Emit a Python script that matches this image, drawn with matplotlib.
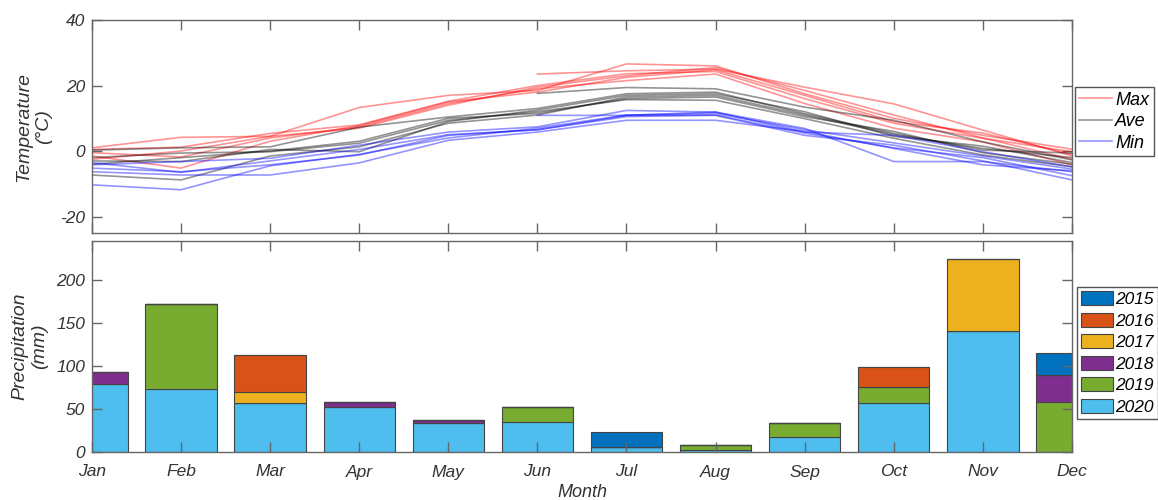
import numpy as np
import matplotlib
matplotlib.use('Agg')
import matplotlib.pyplot as plt

nan = np.nan
months = ['Jan', 'Feb', 'Mar', 'Apr', 'May', 'Jun', 'Jul', 'Aug', 'Sep', 'Oct', 'Nov', 'Dec']
years = ['2015', '2016', '2017', '2018', '2019', '2020']

# monthly temperature (degC), one row per year
t_max = [
    [nan, nan, nan, nan, nan, 23.5, 24.5, 25.0, 19.5, 14.4, 6.4, -1.5],
    [1.0, 4.2, 4.5, 13.3, 17.0, 18.5, 26.6, 26.0, 17.5, 10.0, 4.8, 0.6],
    [0.5, 1.2, 5.4, 8.0, 15.2, 20.0, 23.6, 24.3, 16.0, 8.5, 3.9, -0.2],
    [-0.5, -1.8, 4.0, 7.4, 14.5, 19.0, 21.5, 23.5, 14.5, 7.0, 2.8, -4.2],
    [-1.5, -5.2, 3.0, 7.8, 15.0, 18.0, 22.5, 24.8, 17.0, 9.0, 5.5, -1.0],
    [-2.5, 0.0, 4.5, 7.0, 14.0, 19.5, 23.0, 25.5, 18.5, 11.0, 4.0, -2.5],
]
t_ave = [
    [nan, nan, nan, nan, nan, 17.6, 19.4, 19.0, 13.4, 9.4, 2.8, -2.7],
    [0.3, 1.0, 1.3, 7.3, 10.4, 13.0, 17.5, 18.0, 11.4, 5.4, 0.3, -0.6],
    [-2.0, -0.6, -0.2, 2.4, 9.4, 12.0, 15.7, 15.5, 9.9, 3.9, -1.2, -4.8],
    [-7.3, -8.8, -1.5, 1.3, 8.5, 11.0, 16.5, 17.0, 11.0, 5.0, 0.8, -2.0],
    [-3.0, -3.2, 0.5, -0.2, 9.0, 12.5, 17.0, 17.5, 12.0, 4.5, 1.5, -3.5],
    [-4.0, -2.0, 0.0, 3.0, 10.0, 11.5, 16.0, 16.5, 10.5, 6.0, -0.5, -4.0],
]
t_min = [
    [nan, nan, nan, nan, nan, 10.9, 10.9, 11.9, 6.9, -3.2, -3.2, -6.3],
    [-4.2, -3.2, -2.2, 1.8, 5.8, 7.4, 12.4, 11.9, 5.8, 4.8, -0.2, -4.8],
    [-5.2, -6.3, -4.2, -1.2, 4.8, 6.5, 10.9, 10.9, 4.8, 1.8, -3.0, -8.8],
    [-6.3, -7.3, -7.3, -3.6, 3.3, 5.8, 9.4, 9.4, 6.0, 0.8, -4.2, -6.0],
    [-10.3, -11.8, -4.5, -1.0, 4.0, 7.0, 11.0, 11.5, 6.5, 2.5, -1.5, -5.5],
    [-3.5, -6.5, -3.0, 0.5, 5.0, 6.5, 10.5, 11.0, 5.5, 1.0, -2.0, -7.5],
]

# monthly precipitation (mm) per year, stacked from 2020 at the bottom
precip = {
    '2015': [0, 0, 0, 0, 0, 0, 17.5, 0, 0, 0, 0, 25],
    '2016': [0, 0, 42.5, 0, 0, 0, 0, 0, 0, 24, 0, 0],
    '2017': [0, 0, 13, 0, 0, 0, 0, 0, 0, 0, 83.5, 0],
    '2018': [13.5, 0, 0, 5.5, 3.5, 0, 0, 0, 0, 0, 0, 31.5],
    '2019': [0, 99, 0, 0, 0, 17, 0, 6, 16, 18, 0, 58],
    '2020': [79, 73, 57, 52.3, 34, 35.3, 5.8, 2, 17.4, 57, 141, 0],
}
bar_colors = {'2015': '#0072BD', '2016': '#D95319', '2017': '#EDB120',
              '2018': '#7E2F8E', '2019': '#77AC30', '2020': '#4DBEEE'}

plt.rcParams['font.family'] = ['Liberation Sans', 'DejaVu Sans']
plt.rcParams['font.style'] = 'italic'
plt.rcParams['axes.unicode_minus'] = False
txt = '#333333'
spine = '#666666'

fig = plt.figure(figsize=(11.58, 5.0), dpi=100)
ax1 = fig.add_axes([0.0794, 0.534, 0.8463, 0.426])
ax2 = fig.add_axes([0.0794, 0.096, 0.8463, 0.422])

x = np.arange(1, 13)

def style(ax):
    for s in ax.spines.values():
        s.set_color(spine)
        s.set_linewidth(1.0)
    ax.tick_params(direction='in', length=7, width=1.0, color=spine,
                   top=True, right=True, labelsize=12.5, labelcolor=txt)
    ax.tick_params(axis='x', pad=9)
    ax.tick_params(axis='y', pad=5)
    ax.set_xlim(1, 12)
    ax.set_xticks(x)

for i in range(len(years)):
    ax1.plot(x, t_max[i], color='red', alpha=0.42, lw=1.2, label='Max' if i == 0 else None)
for i in range(len(years)):
    ax1.plot(x, t_ave[i], color='black', alpha=0.42, lw=1.2, label='Ave' if i == 0 else None)
for i in range(len(years)):
    ax1.plot(x, t_min[i], color='blue', alpha=0.42, lw=1.2, label='Min' if i == 0 else None)

style(ax1)
ax1.set_ylim(-25, 40)
ax1.set_yticks([-20, 0, 20, 40])
ax1.set_xticklabels([])
ax1.set_ylabel('Temperature\n(°C)', fontsize=14, color=txt, labelpad=6)
ax1.legend(loc='upper left', bbox_to_anchor=(0.928, 0.826), bbox_transform=fig.transFigure,
           borderaxespad=0, fontsize=13, handlelength=1.8, labelspacing=0.25,
           handletextpad=0.2, borderpad=0.25, fancybox=False, edgecolor='#555555',
           framealpha=1)

bottom = np.zeros(12)
handles = {}
for yr in years[::-1]:
    vals = np.array(precip[yr])
    handles[yr] = ax2.bar(x, vals, width=0.8, bottom=bottom, color=bar_colors[yr],
                          edgecolor='#444444', linewidth=0.8, label=yr)
    bottom += vals

style(ax2)
ax2.set_ylim(0, 245)
ax2.set_yticks([0, 50, 100, 150, 200])
ax2.set_xticklabels(months)
ax2.set_ylabel('Precipitation\n(mm)', fontsize=14, color=txt, labelpad=6)
ax2.set_xlabel('Month', fontsize=13, color=txt, labelpad=3)
ax2.legend([handles[y] for y in years], years, loc='upper left', bbox_to_anchor=(0.930, 0.426),
           bbox_transform=fig.transFigure, borderaxespad=0, fontsize=12.5,
           handlelength=1.8, handleheight=0.85, labelspacing=0.32, handletextpad=0.15,
           borderpad=0.25, fancybox=False, edgecolor='#555555', framealpha=1)

fig.savefig('out.png', dpi=100)
